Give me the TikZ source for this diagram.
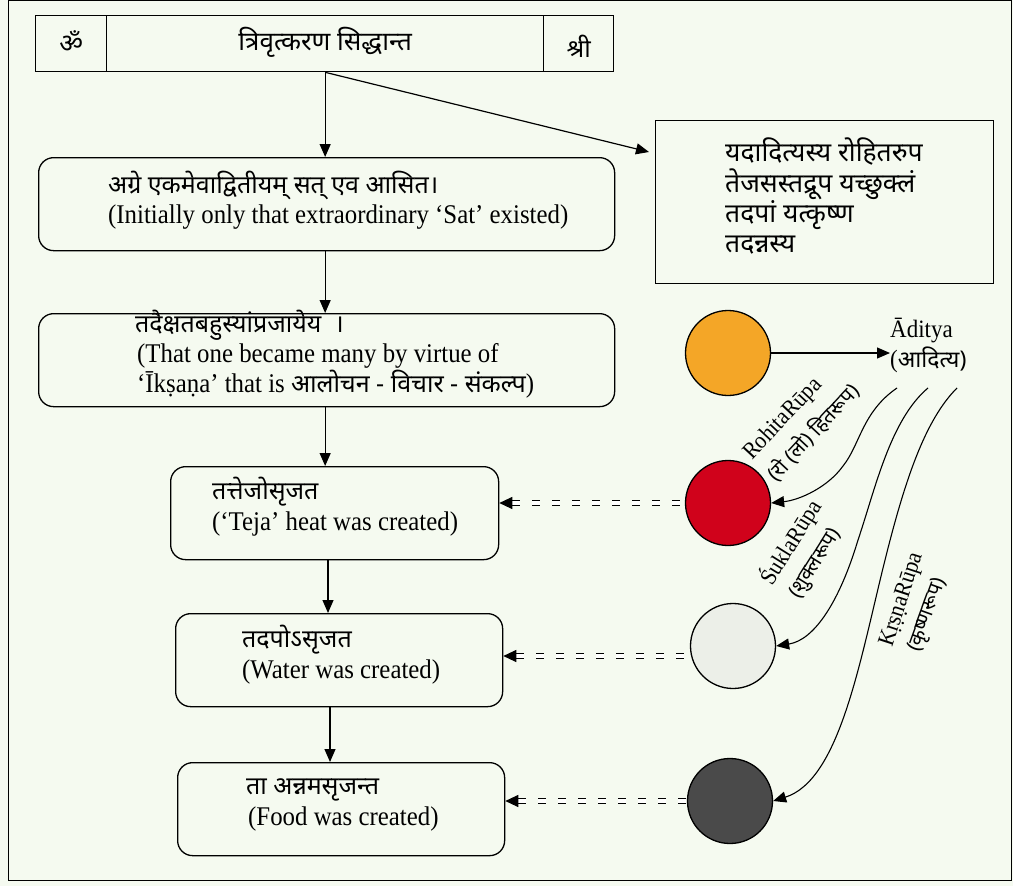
\documentclass[tikz,border=0pt]{standalone}
\usepackage{fontspec}
\setmainfont{Liberation Serif}[FakeStretch=0.92]
\newfontfamily\dev[Script=Devanagari]{Noto Sans}
\usetikzlibrary{arrows.meta,calc}

\definecolor{pagebg}{HTML}{F5FAF0}
\definecolor{sunorange}{HTML}{F4A627}
\definecolor{sunred}{HTML}{D0021B}
\definecolor{sunwhite}{HTML}{ECEFE8}
\definecolor{sundark}{HTML}{4A4A4A}

\newcommand\engtext{\fontsize{27}{31}\selectfont}
\newcommand\devtext{\dev\fontsize{25}{31}\selectfont}
\newcommand\boxdev{\dev\fontsize{26.5}{31}\selectfont}
\newcommand\lbltext{\fontsize{23.5}{26}\selectfont}
\newcommand\lbldev{\dev\fontsize{20.5}{26}\selectfont}

\tikzset{
  cell/.style={draw, line width=1.3pt, inner sep=0pt, anchor=north west, minimum height=56pt},
  stagebox/.style={draw, line width=1.3pt, rounded corners=15pt, inner sep=0pt, anchor=north west, minimum height=93pt},
  plainbox/.style={draw, line width=1.3pt, inner sep=0pt, anchor=north west},
  txt/.style={anchor=mid west, inner sep=0pt},
  sun/.style={circle, draw, line width=1.3pt, minimum size=85pt, inner sep=0pt},
  arr/.style={line width=1.2pt, -{Triangle[length=13pt,width=11pt]}},
  flow/.style={line width=1.1pt, -{Triangle[length=13pt,width=11pt]}},
  ray/.style={line width=1.1pt, dash pattern=on 8pt off 12pt, double distance=3.5pt,
              {Triangle[length=13pt,width=12pt]}-},
  rlabel/.style={anchor=base west, inner sep=0pt}
}

\begin{document}
\begin{tikzpicture}[x=1pt,y=-1pt]
\fill[pagebg] (0,0) rectangle (1013,886);
\useasboundingbox (0,0) rectangle (1013,886);
\draw[line width=1pt] (8,0.5) rectangle (1011,880);

% heading row
\node[cell, minimum width=71pt]  (om)   at (35,15)  {};
\node[cell, minimum width=437pt] (ttl)  at (106,15) {};
\node[cell, minimum width=70pt]  (shri) at (543,15) {};
\node (omt)   at ([yshift=2pt]om.center)   {\dev\fontsize{26}{28}\selectfont ॐ};
\node (ttlt)  at ([yshift=1pt]ttl.center)  {\dev\fontsize{26}{30}\selectfont त्रिवृत्करण सिद्धान्त};
\node (shrit) at ([yshift=-3pt]shri.center) {\dev\fontsize{25}{30}\selectfont श्री};

% stage boxes
\node[stagebox, minimum width=576pt] (b1) at (38,157) {};
\node[stagebox, minimum width=576pt] (b2) at (38,313) {};
\node[stagebox, minimum width=328pt] (b3) at (170,466) {};
\node[stagebox, minimum width=327pt] (b4) at (175,613) {};
\node[stagebox, minimum width=327pt] (b5) at (177,762) {};
\node[plainbox, minimum width=338pt, minimum height=163pt] (rb) at (655,120) {};

\node[txt] (b1a) at (108,191) {\devtext अग्रे एकमेवाद्वितीयम् सत् एव आसित।};
\node[txt] (b1b) at (108,221) {\engtext (Initially only that extraordinary ‘Sat’ existed)};

\node[txt] (b2a) at (135,330) {\devtext तदैक्षतबहुस्यांप्रजायेय \ ।};
\node[txt] (b2b) at (137,360) {\engtext (That one became many by virtue of};
\node[txt] (b2c) at (137,390) {\engtext ‘Īkṣaṇa’ that is {\devtext आलोचन - विचार - संकल्प})};

\node[txt] (b3a) at (212,497) {\devtext तत्तेजोसृजत};
\node[txt] (b3b) at (212,528) {\engtext (‘Teja’ heat was created)};

\node[txt] (b4a) at (242,645) {\devtext तदपोऽसृजत};
\node[txt] (b4b) at (242,676) {\engtext (Water was created)};

\node[txt] (b5a) at (246,792) {\devtext ता अन्नमसृजन्त};
\node[txt] (b5b) at (248,823) {\engtext (Food was created)};

\node[txt] (rb1) at (725,159) {\boxdev यदादित्यस्य रोहितरुप};
\node[txt] (rb2) at (725,190) {\boxdev तेजसस्तद्रूप यच्छुक्लं};
\node[txt] (rb3) at (725,220) {\boxdev तदपां यत्कृष्ण};
\node[txt] (rb4) at (725,250) {\boxdev तदन्नस्य};

% the four discs
\node[sun, fill=sunorange] (orange) at (728,353) {};
\node[sun, fill=sunred]    (red)    at (728,503) {};
\node[sun, fill=sunwhite]  (white)  at (733,646) {};
\node[sun, fill=sundark]   (dark)   at (730,801) {};

\node[anchor=north west, inner sep=0pt, align=left, font=\fontsize{25}{31}\selectfont] (adi) at (890,318)
  {Āditya\\[-1pt](\dev\fontsize{23}{28}\selectfont आदित्य)};

% main flow
\coordinate (split) at (ttl.south);
\draw[arr] (split) -- (split |- b1.north);
\draw[arr] (split) -- ($(rb.north west)+(-6,32)$);
\draw[arr] (b1.south -| split) -- (b2.north -| split);
\draw[arr] (b2.south -| split) -- (b3.north -| split);
\coordinate (colb) at (328,0);
\draw[arr] (b3.south -| colb) -- (b4.north -| colb);
\coordinate (colc) at (330,0);
\draw[arr] (b4.south -| colc) -- (b5.north -| colc);

% sun to Aditya
\draw[arr] (orange.east) -- (adi.west |- orange.east);

% three rupa curves
\coordinate (s1) at (897,388);
\coordinate (s2) at (928,388);
\coordinate (s3) at (957,388);
\draw[flow] (s1) .. controls (862,412) and (860,445) .. (843,466) .. controls (828,487) and (800,500) .. (red.east);
\draw[flow] (s2) .. controls (890,420) and (875,490) .. (858,540) .. controls (840,600) and (815,640) .. (white.east);
\draw[flow] (s3) .. controls (925,420) and (905,480) .. (885,560) .. controls (860,660) and (840,780) .. (dark.east);

% labels along the curves
\node[rlabel, rotate=47] (l1a) at (752,461) {\lbltext RohitaRūpa};
\node[rlabel, rotate=47] (l1b) at (776,483) {\lbldev (रो (लो) हितरूप)};
\node[rlabel, rotate=58] (l2a) at (772,587) {\lbltext ŚuklaRūpa};
\node[rlabel, rotate=58] (l2b) at (799,600) {\lbldev (शुक्लरूप)};
\node[rlabel, rotate=72] (l3a) at (892,648) {\lbltext KṛṣṇaRūpa};
\node[rlabel, rotate=70] (l3b) at (919,653) {\lbldev (कृष्णरूप)};

% double dashed rays into the stage boxes
\draw[ray] (red.west -| b3.east) -- (red.west);
\draw[ray] ([yshift=-10pt]white.west -| b4.east) -- ([yshift=-10pt]white.west);
\draw[ray] (dark.west -| b5.east) -- (dark.west);
\end{tikzpicture}
\end{document}
